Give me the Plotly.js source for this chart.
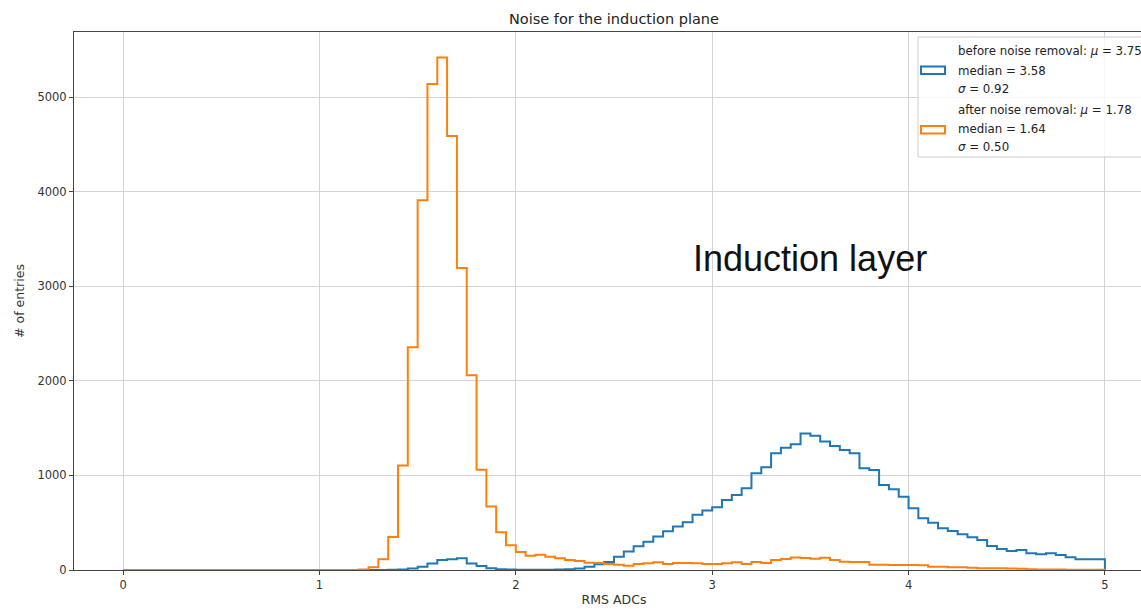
<!DOCTYPE html>
<html>
<head>
<meta charset="utf-8">
<script src="https://cdn.plot.ly/plotly-3.0.1.min.js"></script>
<style>
  html, body { margin: 0; padding: 0; overflow: hidden; background: #fff; }
  #chart { width: 1170px; height: 609px; }
</style>
</head>
<body>
<div id="chart"></div>
<script>
// RMS noise histograms, 100 bins of width 0.05 between 0 and 5 ADC
const binStart = 0;
const binWidth = 0.05;

// entries per bin before noise removal
const beforeCounts = [
  0, 0, 0, 0, 0, 0, 0, 0, 0, 0,
  0, 0, 0, 0, 0, 0, 0, 0, 0, 0,
  0, 0, 0, 0, 0, 0, 0, 2, 5, 15,
  35, 70, 105, 113, 125, 70, 42, 18, 8, 5,
  3, 3, 2, 3, 4, 8, 15, 35, 60, 85,
  140, 195, 250, 300, 355, 410, 460, 505, 585, 630,
  663, 741, 794, 864, 1023, 1086, 1235, 1292, 1330, 1443,
  1419, 1359, 1312, 1270, 1235, 1076, 1058, 900, 854, 776,
  653, 547, 501, 441, 413, 377, 346, 317, 254, 222,
  201, 212, 176, 166, 176, 159, 134, 113, 113, 113
];

// entries per bin after noise removal
const afterCounts = [
  0, 0, 0, 0, 0, 0, 0, 0, 0, 0,
  0, 0, 0, 0, 0, 0, 0, 0, 0, 0,
  0, 0, 0, 0, 5, 30, 115, 350, 1105, 2355,
  3910, 5140, 5420, 4590, 3195, 2060, 1060, 672, 400, 262,
  190, 150, 160, 140, 123, 106, 95, 78, 74, 64,
  56, 46, 64, 71, 81, 64, 74, 74, 71, 64,
  64, 71, 81, 64, 85, 74, 106, 117, 132, 128,
  120, 130, 106, 88, 85, 85, 56, 56, 53, 53,
  53, 50, 35, 35, 28, 28, 25, 18, 18, 18,
  16, 14, 8, 6, 5, 4, 3, 3, 2, 2
];

const beforeLegend = ["before noise removal: <i>μ</i> = 3.75", "median = 3.58", "<i>σ</i> = 0.92"];
const afterLegend = ["after noise removal: <i>μ</i> = 1.78", "median = 1.64", "<i>σ</i> = 0.50"];

const xTickVals = [0, 1, 2, 3, 4, 5];
const yTickVals = [0, 1000, 2000, 3000, 4000, 5000];

const BLUE = "#1f77b4";
const ORANGE = "#ff7f0e";
const FONT = "DejaVu Sans, sans-serif";

// Outline of a step histogram: rise at the first edge, one point per bin, drop at the last edge
function stepOutline(counts) {
  const x = [binStart];
  const y = [0];
  counts.forEach((c, i) => { x.push(binStart + i * binWidth); y.push(c); });
  x.push(binStart + counts.length * binWidth);
  y.push(0);
  return { x, y };
}

const before = stepOutline(beforeCounts);
const after = stepOutline(afterCounts);

const traces = [
  { type: "scatter", mode: "lines", name: "before noise removal",
    x: before.x, y: before.y, line: { color: BLUE, width: 2, shape: "hv" },
    showlegend: false, hoverinfo: "skip" },
  { type: "scatter", mode: "lines", name: "after noise removal",
    x: after.x, y: after.y, line: { color: ORANGE, width: 2, shape: "hv" },
    showlegend: false, hoverinfo: "skip" }
];

// Plot box in pixels: left 74, right 1154, top 32, bottom 570
const W = 1170, H = 609;
const M = { l: 74, r: 16, t: 32, b: 39 };
const pw = W - M.l - M.r, ph = H - M.t - M.b;
const px = v => (v - M.l) / pw;           // pixel x -> paper
const py = v => (H - M.b - v) / ph;       // pixel y -> paper

// Legend drawn as a framed box with outlined swatches
const shapes = [
  { type: "rect", xref: "paper", yref: "paper", layer: "above",
    x0: px(918), x1: px(1175), y0: py(157), y1: py(37),
    fillcolor: "rgba(255,255,255,0.8)", line: { color: "#cccccc", width: 1 } },
  { type: "rect", xref: "paper", yref: "paper", layer: "above",
    x0: px(921), x1: px(945), y0: py(74), y1: py(66.5),
    fillcolor: "rgba(0,0,0,0)", line: { color: BLUE, width: 2 } },
  { type: "rect", xref: "paper", yref: "paper", layer: "above",
    x0: px(921), x1: px(945), y0: py(133.5), y1: py(126),
    fillcolor: "rgba(0,0,0,0)", line: { color: ORANGE, width: 2 } }
];

const legendRows = [51, 71, 89, 110, 129.5, 146.5];
const legendText = beforeLegend.concat(afterLegend);
const annotations = legendText.map((t, i) => ({
  xref: "paper", yref: "paper", x: px(956), y: py(legendRows[i]),
  xanchor: "left", yanchor: "middle", showarrow: false, text: t,
  font: { family: FONT, size: 11.8, color: "#222" }
}));

annotations.push({
  xref: "x", yref: "y", x: 3.5, y: 3295, xanchor: "center", yanchor: "middle",
  showarrow: false, text: "Induction layer",
  font: { family: "Liberation Sans, Arial, sans-serif", size: 36, color: "#111" }
});

const axisCommon = {
  showgrid: true, gridcolor: "#d4d4d4", gridwidth: 1,
  zeroline: false, showline: true, linecolor: "#444", linewidth: 1, mirror: true,
  ticks: "outside", ticklen: 4, tickcolor: "#444",
  tickfont: { family: FONT, size: 11.5, color: "#333" }
};

const layout = {
  width: W, height: H, margin: M,
  paper_bgcolor: "#fff", plot_bgcolor: "#fff",
  title: { text: "Noise for the induction plane", x: 0.5, xref: "paper",
           y: 1 - 19 / H, yref: "container", yanchor: "middle",
           font: { family: FONT, size: 14.5, color: "#222" } },
  xaxis: Object.assign({}, axisCommon, {
    range: [-0.25, 5.25], tickvals: xTickVals, ticktext: xTickVals.map(String),
    title: { text: "RMS ADCs", standoff: 4, font: { family: FONT, size: 12.5, color: "#333" } }
  }),
  yaxis: Object.assign({}, axisCommon, {
    range: [0, 5691], tickvals: yTickVals, ticktext: yTickVals.map(String),
    title: { text: "# of entries", standoff: 10, font: { family: FONT, size: 12.5, color: "#333" } }
  }),
  shapes: shapes,
  annotations: annotations
};

Plotly.newPlot("chart", traces, layout, { displayModeBar: false, staticPlot: true });
</script>
</body>
</html>
